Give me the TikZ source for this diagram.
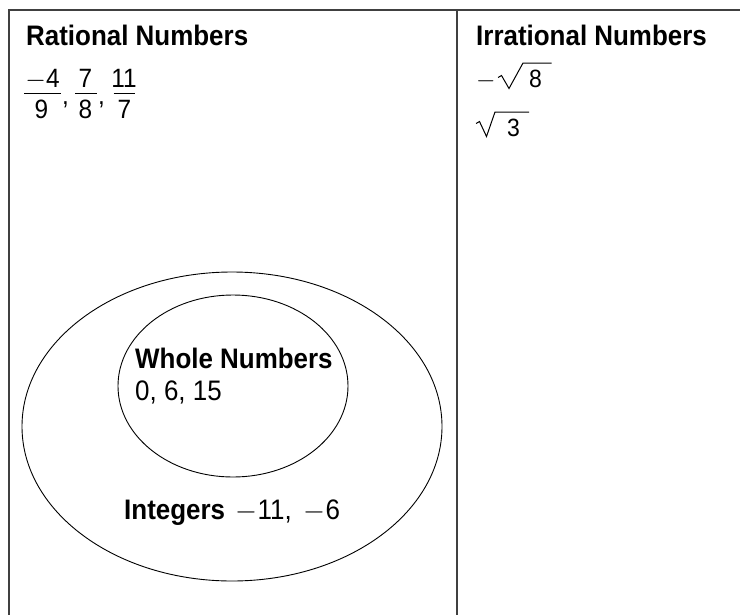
\documentclass[tikz,border=0pt]{standalone}
\usepackage{fix-cm}
\usepackage{fontspec}
\usetikzlibrary{shapes.geometric}
\setmainfont{Liberation Sans}[FakeStretch=0.92]
\begin{document}
\begin{tikzpicture}[x=1pt,y=-1pt,
  frame/.style={line width=1.7pt,draw=black!75},
  setline/.style={line width=0.9pt,draw=black},
  head/.style={anchor=base west,inner sep=0pt,font=\fontsize{28.2}{32}\selectfont\bfseries},
  txt/.style={anchor=base west,inner sep=0pt,font=\fontsize{28.2}{32}\selectfont},
  fr/.style={anchor=base,inner sep=0pt,font=\fontsize{26.5}{30}\selectfont},
  rt/.style={anchor=base west,inner sep=0pt,font=\fontsize{25}{28}\selectfont},
  bar/.style={line width=1.3pt},
  rad/.style={line width=1pt,line join=miter}]
\useasboundingbox (0,0) rectangle (740,614);
\clip (0,0) rectangle (740,614);
% frame
\coordinate (bl) at (9,630);
\coordinate (tl) at (9,10);
\coordinate (tr) at (750,10);
\coordinate (dt) at (457,10);
\coordinate (db) at (457,630);
\draw[frame] (bl) -- (tl) -- (tr);
\draw[frame] (dt) -- (db);
% ellipses
\node[setline,ellipse,draw,minimum width=420pt,minimum height=309pt,inner sep=0pt] (integers) at (232,426.5) {};
\node[setline,ellipse,draw,minimum width=230pt,minimum height=182pt,inner sep=0pt] (whole) at (233,386) {};
% headings
\node[head] (rat) at (26,45) {Rational Numbers};
\node[head] (irr) at (476,45) {Irrational Numbers};
\node[head] (wh) at (135,368) {Whole Numbers};
\node[txt] (whv) at (135,400.5) {0, 6, 15};
\node[head] (int) at (124,519) {Integers};
\node[txt,anchor=base west] (intv) at ([xshift=3pt]int.base east) {\ $-$11, \,$-$6};
% fractions
\node[fr] (n1) at (42.5,87) {$-$4};
\node[fr] (d1) at (41.5,118) {9};
\node[fr] (n2) at (85.5,87) {7};
\node[fr] (d2) at (85.5,118) {8};
\node[fr] (n3) at (124,87) {11};
\node[fr] (d3) at (124.5,118) {7};
\coordinate (b1a) at (24,93.5); \coordinate (b1b) at (61,93.5);
\coordinate (b2a) at (75,93.5); \coordinate (b2b) at (96.5,93.5);
\coordinate (b3a) at (113.5,93.5); \coordinate (b3b) at (135,93.5);
\draw[bar] (b1a) -- (b1b);
\draw[bar] (b2a) -- (b2b);
\draw[bar] (b3a) -- (b3b);
\node[fr,anchor=base west] (c1) at (62,104) {,};
\node[fr,anchor=base west] (c2) at (98,104) {,};
% roots
\node[rt] (m8) at (476,87) {$-$};
\node[rt] (r8) at (529,87) {8};
\node[rt] (r3) at (507,136) {3};
\draw[rad] (498,77.5) -- (501.5,75.5) -- (509,88.5) -- (523,63) -- (551.5,63);
\draw[rad] (476,123.5) -- (479.5,121.5) -- (486.5,136.5) -- (495,112) -- (529,112);
\end{tikzpicture}
\end{document}
